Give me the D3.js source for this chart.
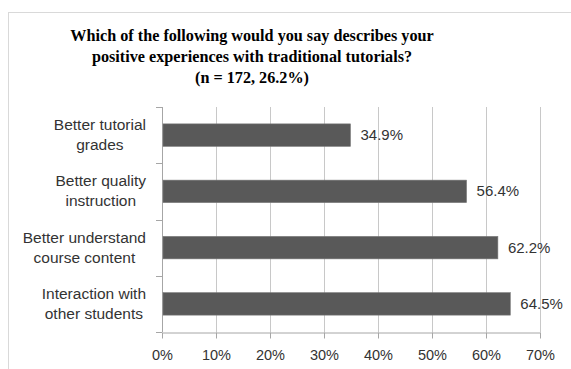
<!DOCTYPE html>
<meta charset="utf-8">
<style>
    body { margin: 0; background: #fff; }
    .tick text { font-family: "Liberation Sans", Arial, sans-serif; }
</style>
<svg width="571" height="369"></svg>
<script src="https://d3js.org/d3.v7.min.js"></script>
<script>

    var categories = [
        ["Better tutorial", "grades"],
        ["Better quality", "instruction"],
        ["Better understand", "course content"],
        ["Interaction with", "other students"]
    ];
    var values = [34.9, 56.4, 62.2, 64.5];
    var xTicks = [0, 10, 20, 30, 40, 50, 60, 70];
    var titleLines = [
        "Which of the following would you say describes your",
        "positive experiences with traditional tutorials?",
        "(n = 172, 26.2%)"
    ];

    var svg = d3.select("svg");

    // outer chart border
    svg.append("rect")
        .attr("x", 8.5).attr("y", 12.5)
        .attr("width", 600).attr("height", 400)
        .attr("fill", "none").attr("stroke", "#d9d9d9");

    var plotLeft = 162, plotRight = 540, plotTop = 107, plotBottom = 332;

    var x = d3.scaleLinear().domain([0, 70]).range([plotLeft, plotRight]);
    var y = d3.scaleBand().domain(d3.range(categories.length))
        .range([plotTop, plotBottom]).paddingInner(0.6).paddingOuter(0.3);
    var yAxisScale = d3.scaleBand().domain(d3.range(categories.length)).range([plotTop, plotBottom]);

    // title
    svg.append("text")
        .attr("x", 252).attr("y", 41)
        .attr("text-anchor", "middle")
        .attr("font-family", "'Liberation Serif', 'Times New Roman', serif")
        .attr("font-weight", "bold")
        .attr("font-size", 16.2)
        .attr("fill", "#000")
        .selectAll("tspan")
        .data(titleLines)
        .enter()
        .append("tspan")
        .attr("x", 252)
        .attr("dy", function (d, i) { return i == 0 ? 0 : 21; })
        .text(function (d) { return d; });

    // grid lines
    svg.append("g")
        .selectAll("line")
        .data(xTicks.slice(1))
        .enter()
        .append("line")
        .attr("x1", function (d) { return x(d) + 0.5; })
        .attr("x2", function (d) { return x(d) + 0.5; })
        .attr("y1", plotTop).attr("y2", plotBottom)
        .attr("stroke", "#c8c8c8");

    // x axis
    var xAxis = svg.append("g")
        .attr("transform", "translate(0," + (plotBottom + 0.5) + ")")
        .call(d3.axisBottom(x).tickValues(xTicks).tickSize(6).tickSizeOuter(0)
            .tickFormat(function (d) { return d + "%"; }));
    xAxis.select(".domain").attr("stroke", "#a6a6a6");
    xAxis.selectAll(".tick line").attr("stroke", "#a6a6a6");
    xAxis.selectAll(".tick text")
        .attr("font-size", 14.5).attr("fill", "#333").attr("dy", "1.25em");

    // y axis line and ticks between categories
    var yLine = svg.append("g");
    yLine.append("line")
        .attr("x1", plotLeft + 0.5).attr("x2", plotLeft + 0.5)
        .attr("y1", plotTop).attr("y2", plotBottom)
        .attr("stroke", "#a6a6a6");
    yLine.selectAll("line.tk")
        .data(d3.range(categories.length + 1))
        .enter()
        .append("line")
        .attr("class", "tk")
        .attr("x1", plotLeft - 6).attr("x2", plotLeft)
        .attr("y1", function (d) { return Math.round(plotTop + d * yAxisScale.step()) + 0.5; })
        .attr("y2", function (d) { return Math.round(plotTop + d * yAxisScale.step()) + 0.5; })
        .attr("stroke", "#a6a6a6");

    // category labels: each two-line block is centred, its widest line ends at x=146
    var labels = svg.append("g")
        .selectAll("text")
        .data(categories)
        .enter()
        .append("text")
        .attr("text-anchor", "middle")
        .attr("font-family", "'Liberation Sans', Arial, sans-serif")
        .attr("font-size", 15.5)
        .attr("fill", "#333")
        .attr("y", function (d, i) { return yAxisScale(i) + yAxisScale.bandwidth() / 2 - 5; });

    labels.selectAll("tspan")
        .data(function (d) { return d; })
        .enter()
        .append("tspan")
        .attr("x", 0)
        .attr("dy", function (d, i) { return i == 0 ? 0 : 20; })
        .text(function (d) { return d; });

    labels.each(function () {
        var maxW = 0;
        d3.select(this).selectAll("tspan").each(function () {
            maxW = Math.max(maxW, this.getComputedTextLength());
        });
        d3.select(this).selectAll("tspan").attr("x", 146 - maxW / 2);
    });

    // bars
    svg.append("g")
        .selectAll("rect")
        .data(values)
        .enter()
        .append("rect")
        .attr("x", x(0) + 1)
        .attr("y", function (d, i) { return y(i); })
        .attr("width", function (d) { return x(d) - x(0) - 1; })
        .attr("height", y.bandwidth())
        .attr("fill", "#595959")
        .attr("stroke", "#7a7a7a")
        .attr("stroke-width", 0.6);

    // value labels
    svg.append("g")
        .selectAll("text")
        .data(values)
        .enter()
        .append("text")
        .attr("x", function (d) { return x(d) + 10; })
        .attr("y", function (d, i) { return y(i) + y.bandwidth() / 2 + 5; })
        .attr("font-family", "'Liberation Sans', Arial, sans-serif")
        .attr("font-size", 15)
        .attr("fill", "#333")
        .text(function (d) { return d.toFixed(1) + "%"; });

</script>
